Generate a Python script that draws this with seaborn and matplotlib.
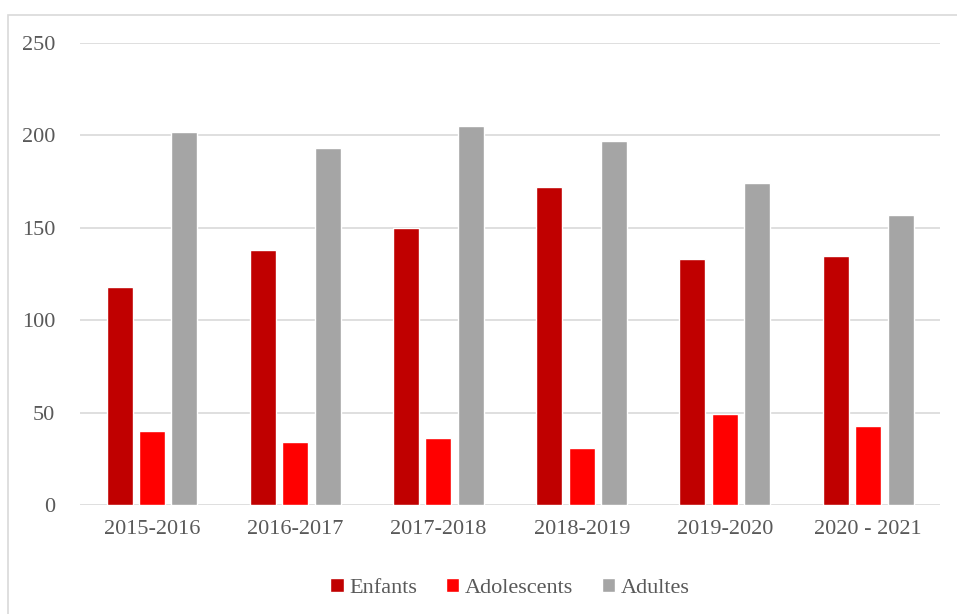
import pandas as pd
import seaborn as sns
import matplotlib.pyplot as plt
from matplotlib.patches import Rectangle

# Data
annees = ["2015-2016", "2016-2017", "2017-2018", "2018-2019", "2019-2020", "2020 - 2021"]
enfants = [118, 138, 150, 172, 133, 135]
adolescents = [40, 34, 36, 31, 49, 43]
adultes = [202, 193, 205, 197, 174, 157]
groupes = ["Enfants", "Adolescents", "Adultes"]
couleurs = ["#C00000", "#FF0000", "#A5A5A5"]

df = pd.DataFrame({"annee": annees, "Enfants": enfants,
                   "Adolescents": adolescents, "Adultes": adultes})
df_long = pd.melt(df, id_vars="annee", value_vars=groupes,
                  var_name="groupe", value_name="valeur")

sns.set_style("white")
plt.rcParams['font.family'] = ['Liberation Serif', 'DejaVu Serif']
txt = "#595959"

fig = plt.figure(figsize=(9.57, 6.14), dpi=100)
ax = fig.add_axes([0.084, 0.1775, 0.898, 0.7525])

sns.barplot(data=df_long, x="annee", y="valeur", hue="groupe",
            hue_order=groupes, palette=couleurs, width=0.68, gap=0.2,
            saturation=1, ax=ax)

ax.set_ylim(0, 250)
ax.set_yticks(range(0, 251, 50))
ax.yaxis.grid(True, color="#D9D9D9", linewidth=1.2)
ax.set_axisbelow(True)
for s in ax.spines.values():
    s.set_visible(False)
ax.set_xlabel("")
ax.set_ylabel("")
ax.tick_params(axis="both", length=0, labelsize=16, labelcolor=txt)
ax.tick_params(axis="x", pad=11)
ax.tick_params(axis="y", pad=18)
ax.set_xlim(-0.5, 5.5)

ax.legend(loc="upper center", bbox_to_anchor=(0.5, -0.115), ncol=3,
          frameon=False, fontsize=16, labelcolor=txt, handlelength=0.6,
          handleheight=0.6, handletextpad=0.25, columnspacing=1.3)

# light chart border
fig.patches.append(Rectangle((8 / 957, -0.01), 1.02, 1 - 15 / 614 + 0.01,
                             transform=fig.transFigure, fill=False,
                             edgecolor="#D9D9D9", linewidth=1.2))

fig.savefig("out.png", dpi=100)
